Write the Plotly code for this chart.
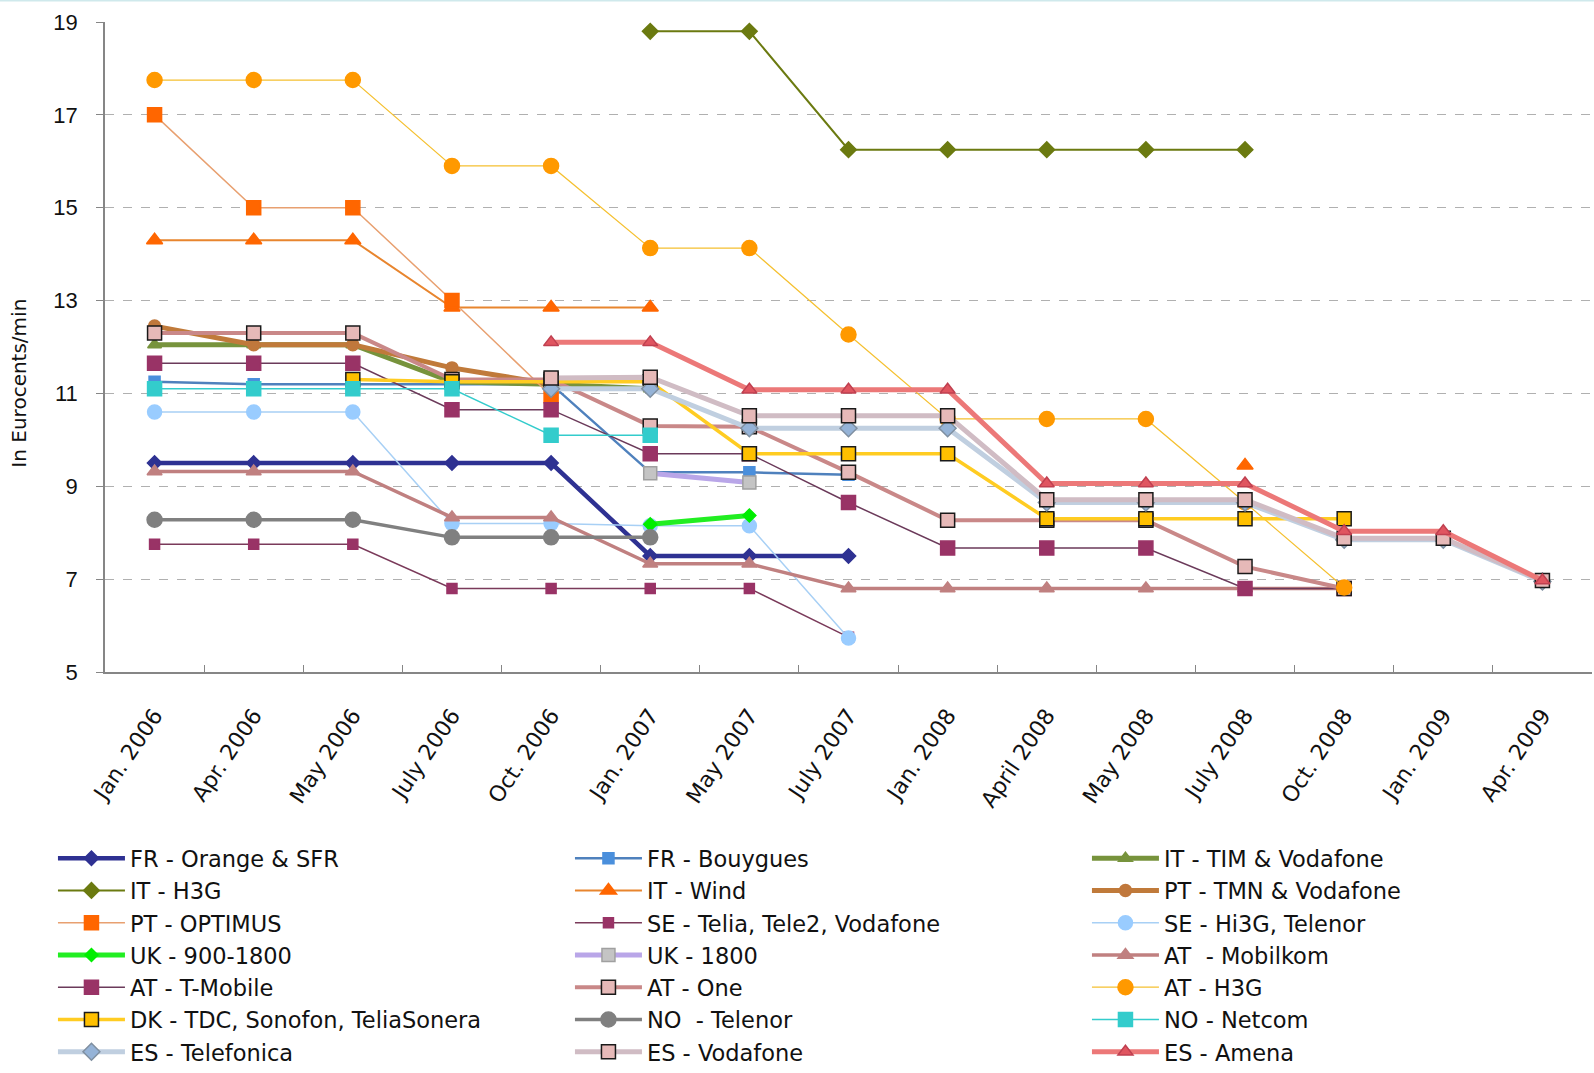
import plotly.graph_objects as go

categories = ["Jan. 2006", "Apr. 2006", "May 2006", "July 2006", "Oct. 2006", "Jan. 2007",
              "May 2007", "July 2007", "Jan. 2008", "April 2008", "May 2008", "July 2008",
              "Oct. 2008", "Jan. 2009", "Apr. 2009"]
N = None

fr_orange = [9.5, 9.5, 9.5, 9.5, 9.5, 7.5, 7.5, 7.5, N, N, N, N, N, N, N]
fr_bouygues = [11.25, 11.2, 11.2, 11.2, 11.2, 9.3, 9.3, 9.25, N, N, N, N, N, N, N]
it_tim = [12.05, 12.05, 12.05, 11.25, 11.2, 11.1, N, N, N, N, N, N, N, N, N]
it_h3g = [N, N, N, N, N, 18.8, 18.8, 16.25, 16.25, 16.25, 16.25, 16.25, N, N, N]
it_wind = [14.3, 14.3, 14.3, 12.85, 12.85, 12.85, N, N, N, N, N, 9.45, N, N, N]
pt_tmn = [12.45, 12.05, 12.05, 11.55, 11.2, N, N, N, N, N, N, N, N, N, N]
pt_optimus = [17.0, 15.0, 15.0, 13.0, 10.95, N, N, N, N, N, N, N, N, N, N]
se_telia = [7.75, 7.75, 7.75, 6.8, 6.8, 6.8, 6.8, 5.75, N, N, N, N, N, N, N]
se_hi3g = [10.6, 10.6, 10.6, 8.2, 8.2, 8.15, 8.15, 5.73, N, N, N, N, N, N, N]
uk_9001800 = [N, N, N, N, N, 8.18, 8.37, N, N, N, N, N, N, N, N]
uk_1800 = [N, N, N, N, N, 9.28, 9.08, N, N, N, N, N, N, N, N]
at_mobilkom = [9.32, 9.32, 9.32, 8.33, 8.33, 7.33, 7.33, 6.8, 6.8, 6.8, 6.8, 6.8, 6.8, N, N]
at_tmobile = [11.65, 11.65, 11.65, 10.65, 10.65, 9.7, 9.7, 8.65, 7.67, 7.67, 7.67, 6.8, 6.8, N, N]
at_one = [12.3, 12.3, 12.3, 11.3, 11.3, 10.3, 10.28, 9.3, 8.27, 8.27, 8.27, 7.27, 6.8, N, N]
at_h3g = [17.75, 17.75, 17.75, 15.9, 15.9, 14.13, 14.13, 12.27, 10.45, 10.45, 10.45, 8.65, 6.82, N, N]
dk = [N, N, 11.3, 11.25, 11.25, 11.25, 9.7, 9.7, 9.7, 8.3, 8.3, 8.3, 8.3, N, N]
no_telenor = [8.28, 8.28, 8.28, 7.9, 7.9, 7.9, N, N, N, N, N, N, N, N, N]
no_netcom = [11.1, 11.1, 11.1, 11.1, 10.1, 10.1, N, N, N, N, N, N, N, N, N]
es_telefonica = [N, N, N, N, 11.1, 11.1, 10.25, 10.25, 10.25, 8.65, 8.65, 8.65, 7.85, 7.85, 6.95]
es_vodafone = [N, N, N, N, 11.33, 11.35, 10.52, 10.52, 10.52, 8.71, 8.71, 8.71, 7.88, 7.88, 6.97]
es_amena = [N, N, N, N, 12.1, 12.1, 11.08, 11.08, 11.08, 9.06, 9.06, 9.06, 8.03, 8.03, 6.97]

series = [
    ("FR - Orange & SFR", fr_orange, "#2e3192", 4.5, "diamond", 11, "#2e3192", "#2e3192"),
    ("FR - Bouygues", fr_bouygues, "#4f81bd", 2.5, "square", 11, "#4a8fdc", "#4a8fdc"),
    ("IT - TIM & Vodafone", it_tim, "#77933c", 5, "triangle-up", 12, "#77933c", "#77933c"),
    ("IT - H3G", it_h3g, "#6b7a10", 2, "diamond", 12, "#6b7a10", "#6b7a10"),
    ("IT - Wind", it_wind, "#e8852e", 2, "triangle-up", 14, "#ff6600", "#ff6600"),
    ("PT - TMN & Vodafone", pt_tmn, "#c07a3a", 5, "circle", 12, "#c0783c", "#c0783c"),
    ("PT - OPTIMUS", pt_optimus, "#e8a070", 1.5, "square", 14, "#ff6600", "#ff6600"),
    ("SE - Telia, Tele2, Vodafone", se_telia, "#7a3a5a", 1.5, "square", 10, "#993366", "#993366"),
    ("SE - Hi3G, Telenor", se_hi3g, "#a8d0f5", 1.5, "circle", 14, "#99ccff", "#99ccff"),
    ("UK - 900-1800", uk_9001800, "#22ee22", 5, "diamond", 10, "#00ee00", "#00ee00"),
    ("UK - 1800", uk_1800, "#b9a6e8", 5, "square", 13, "#c4c4c4", "#a0a0a0"),
    ("AT  - Mobilkom", at_mobilkom, "#c08080", 3.5, "triangle-up", 13, "#c08080", "#c08080"),
    ("AT - T-Mobile", at_tmobile, "#6b3a5a", 1.5, "square", 14, "#993366", "#993366"),
    ("AT - One", at_one, "#c98888", 4, "square", 14, "#e6b9b8", "#1a1a1a"),
    ("AT - H3G", at_h3g, "#f5c030", 1.2, "circle", 15, "#ff9900", "#ff9900"),
    ("DK - TDC, Sonofon, TeliaSonera", dk, "#ffcc22", 3.5, "square", 14, "#ffc000", "#1a1a1a"),
    ("NO  - Telenor", no_telenor, "#808080", 3.5, "circle", 15, "#808080", "#808080"),
    ("NO - Netcom", no_netcom, "#33cccc", 1.5, "square", 14, "#33cccc", "#33cccc"),
    ("ES - Telefonica", es_telefonica, "#c0cfe0", 5, "diamond", 13, "#95b3d7", "#7f8fa0"),
    ("ES - Vodafone", es_vodafone, "#d0bcc4", 5, "square", 14, "#e6b9b8", "#1a1a1a"),
    ("ES - Amena", es_amena, "#ec7878", 5, "triangle-up", 13, "#e05560", "#c04050"),
]

fig = go.Figure()
for name, vals, lc, lw, sym, ms, mfill, mline in series:
    fig.add_trace(go.Scatter(
        x=categories, y=vals, name=name, mode="lines+markers",
        line=dict(color=lc, width=lw),
        marker=dict(symbol=sym, size=ms, color=mfill, line=dict(color=mline, width=1.5)),
        connectgaps=False,
    ))

fig.add_annotation(
    text="In Eurocents/min", textangle=-90, xref="paper", yref="paper",
    x=-0.0485, y=0.445, xanchor="right", yanchor="middle", showarrow=False,
    font=dict(size=20, family="DejaVu Sans, sans-serif", color="#111111"),
)
fig.add_shape(type="line", xref="paper", yref="paper", x0=-0.08, x1=1.01,
              y0=1.0338, y1=1.0338, line=dict(color="#cfe9ec", width=3))

fig.update_layout(
    width=1594, height=1073,
    margin=dict(l=105, r=2, t=22, b=401, autoexpand=False),
    plot_bgcolor="white", paper_bgcolor="white",
    font=dict(family="Liberation Sans, Arial, sans-serif", color="#111111"),
    showlegend=True,
    legend=dict(
        orientation="h", x=-0.035, xanchor="left", y=-0.254, yanchor="top",
        entrywidth=435, entrywidthmode="pixels", itemwidth=67,
        font=dict(size=22.5, color="#111111", family="DejaVu Sans, sans-serif"),
        tracegroupgap=0, bgcolor="rgba(0,0,0,0)",
    ),
    xaxis=dict(
        type="category", categoryorder="array", categoryarray=categories,
        range=[-0.5, 14.5], tickangle=-56,
        tickfont=dict(size=22, family="DejaVu Sans, sans-serif"),
        showline=True, linecolor="#868686", linewidth=1.5,
        ticks="inside", tickson="boundaries", ticklen=7, tickcolor="#868686",
        ticklabelstandoff=20,
        showgrid=False, zeroline=False,
    ),
    yaxis=dict(
        range=[5, 19], dtick=2, tick0=5, tickfont=dict(size=22),
        showline=True, linecolor="#868686", linewidth=1.5,
        ticks="outside", ticklen=7, tickcolor="#868686", ticklabelstandoff=14,
        showgrid=True, gridcolor="#b0b0b0", griddash="dash", gridwidth=1,
        zeroline=False,
    ),
)

fig.write_html("out.html")
